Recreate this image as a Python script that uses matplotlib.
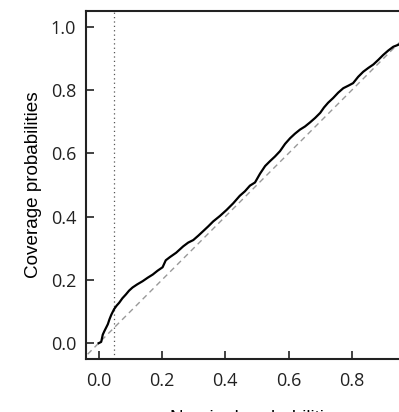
import matplotlib.pyplot as plt

# coverage curve
nominal = [0.0, 0.008, 0.013, 0.018, 0.023, 0.029, 0.034, 0.040, 0.049, 0.057, 0.065,
           0.075, 0.086, 0.096, 0.107, 0.122, 0.139, 0.155, 0.171, 0.186, 0.202, 0.212,
           0.225, 0.245, 0.267, 0.283, 0.299, 0.315, 0.330, 0.346, 0.362, 0.383, 0.404,
           0.425, 0.446, 0.462, 0.478, 0.494, 0.510, 0.526, 0.541, 0.557, 0.573, 0.589,
           0.605, 0.620, 0.636, 0.652, 0.668, 0.684, 0.700, 0.712, 0.725, 0.741, 0.757,
           0.773, 0.789, 0.804, 0.820, 0.836, 0.852, 0.868, 0.884, 0.899, 0.915, 0.931,
           0.949, 0.97, 1.0]
coverage = [0.0, 0.004, 0.027, 0.038, 0.048, 0.060, 0.075, 0.090, 0.108, 0.119, 0.128,
            0.142, 0.154, 0.166, 0.176, 0.186, 0.196, 0.207, 0.217, 0.229, 0.240, 0.262,
            0.272, 0.286, 0.306, 0.318, 0.326, 0.340, 0.354, 0.369, 0.385, 0.402, 0.421,
            0.442, 0.466, 0.480, 0.498, 0.508, 0.536, 0.560, 0.575, 0.590, 0.607, 0.630,
            0.648, 0.662, 0.675, 0.685, 0.698, 0.712, 0.728, 0.745, 0.760, 0.775, 0.792,
            0.806, 0.814, 0.822, 0.842, 0.858, 0.870, 0.881, 0.896, 0.911, 0.925, 0.937,
            0.944, 0.962, 0.99]
nominal_level = 0.05
ticks = [0.0, 0.2, 0.4, 0.6, 0.8, 1.0]

fig = plt.figure(figsize=(3.99, 4.12), dpi=100)
ax = fig.add_axes([86 / 399, 53 / 412, 341.8 / 399, 348 / 412])

ax.plot([-0.1, 1.1], [-0.1, 1.1], color="#999999", linestyle=(0, (4, 3)), linewidth=1.0)
ax.axvline(nominal_level, color="#555555", linestyle=(0, (1, 2.5)), linewidth=0.9)
ax.plot(nominal, coverage, color="black", linewidth=1.6)

ax.set_xlim(-0.04, 1.04)
ax.set_ylim(-0.05, 1.05)
ax.set_xticks(ticks)
ax.set_yticks(ticks)
ax.set_xticklabels([f"{t:.1f}" for t in ticks], fontfamily="Open Sans", fontsize=13)
ax.set_yticklabels([f"{t:.1f}" for t in ticks], fontfamily="Open Sans", fontsize=13)
ax.tick_params(direction="in", length=6, width=1.2, color="#222222", labelcolor="#222222")
ax.tick_params(axis="x", pad=9)
ax.tick_params(axis="y", pad=7)
for spine in ax.spines.values():
    spine.set_linewidth(1.5)
    spine.set_color("#222222")

ax.set_xlabel("Nominal probabilities", fontfamily="Liberation Sans", fontsize=13.6, labelpad=15)
ax.set_ylabel("Coverage probabilities", fontfamily="Liberation Sans", fontsize=13.6, labelpad=6)

fig.savefig("out.png", dpi=100)
